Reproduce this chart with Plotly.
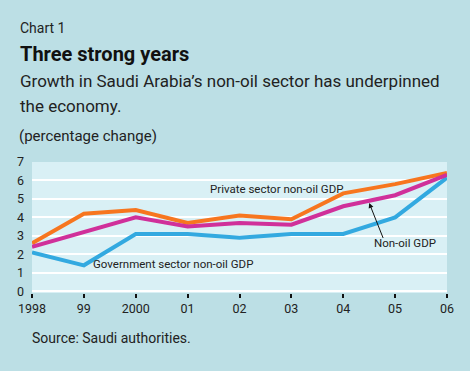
import plotly.graph_objects as go

years = [1998, 1999, 2000, 2001, 2002, 2003, 2004, 2005, 2006]
tick_labels = ["1998", "99", "2000", "01", "02", "03", "04", "05", "06"]
private_nonoil = [2.6, 4.2, 4.4, 3.7, 4.1, 3.9, 5.3, 5.8, 6.4]
nonoil_gdp = [2.4, 3.2, 4.0, 3.5, 3.7, 3.6, 4.6, 5.2, 6.3]
government_nonoil = [2.1, 1.4, 3.1, 3.1, 2.9, 3.1, 3.1, 4.0, 6.15]

W, H = 470, 371
L, R, T, B = 32, 23, 162, 78
PW, PH = W - L - R, H - T - B
FONT = "Roboto, Arial, sans-serif"
TXT = "#222222"

def px(x):
    return (x - L) / PW

def py(y):
    return (H - B - y) / PH

fig = go.Figure()
fig.add_trace(go.Scatter(x=years, y=government_nonoil, mode="lines",
                         line=dict(color="#33a9e0", width=4), name="Government sector non-oil GDP"))
fig.add_trace(go.Scatter(x=years, y=private_nonoil, mode="lines",
                         line=dict(color="#f7761f", width=4), name="Private sector non-oil GDP"))
fig.add_trace(go.Scatter(x=years, y=nonoil_gdp, mode="lines",
                         line=dict(color="#d0309a", width=4), name="Non-oil GDP"))

ann = []
def text(x, y, s, size, bold=False, anchor="left"):
    ann.append(dict(xref="paper", yref="paper", x=px(x), y=py(y), text=("<b>%s</b>" % s) if bold else s,
                    showarrow=False, xanchor=anchor, yanchor="middle",
                    font=dict(family=FONT, size=size, color="#111111" if bold else TXT)))

text(18, 28, "Chart 1", 14)
text(18, 54, "Three strong years", 20, bold=True)
text(18, 81, "Growth in Saudi Arabia\u2019s non-oil sector has underpinned", 17)
text(18, 106, "the economy.", 17)
text(17, 136, "(percentage change)", 15)
text(30, 338, "Source: Saudi authorities.", 14)

lab = dict(family=FONT, size=11.5, color=TXT)
ann.append(dict(x=2002.72, y=5.54, xref="x", yref="y", text="Private sector non-oil GDP", showarrow=False,
                xanchor="center", yanchor="middle", font=lab))
ann.append(dict(x=2000.72, y=1.48, xref="x", yref="y", text="Government sector non-oil GDP", showarrow=False,
                xanchor="center", yanchor="middle", font=lab))
ann.append(dict(x=2005.19, y=2.61, xref="x", yref="y", text="Non-oil GDP", showarrow=False,
                xanchor="center", yanchor="middle", font=lab))
ann.append(dict(x=2004.5, y=4.78, xref="x", yref="y", ax=2004.78, ay=2.8, axref="x", ayref="y",
                text="", showarrow=True, arrowhead=2, arrowsize=1, arrowwidth=1, arrowcolor="#111111",
                standoff=0, startstandoff=0))

fig.update_layout(
    width=W, height=H,
    margin=dict(l=L, r=R, t=T, b=B, pad=0),
    paper_bgcolor="#bcdfe5",
    plot_bgcolor="#d9f0f5",
    showlegend=False,
    annotations=ann,
    xaxis=dict(range=[1998, 2006], tickmode="array", tickvals=years, ticktext=tick_labels,
               showgrid=False, zeroline=False, ticks="outside", ticklen=4, tickwidth=2, tickcolor="#111111",
               tickfont=dict(family=FONT, size=12.5, color=TXT), showline=False),
    yaxis=dict(range=[-0.1, 7], tickmode="array", tickvals=list(range(8)),
               showgrid=True, gridcolor="#ffffff", gridwidth=2, zeroline=False,
               ticks="", ticklabelstandoff=7,
               tickfont=dict(family=FONT, size=12.5, color=TXT), showline=False),
)
fig.write_html("out.html", config={"displayModeBar": False},
               post_script="document.body.style.margin='0';document.body.style.background='#bcdfe5';")
